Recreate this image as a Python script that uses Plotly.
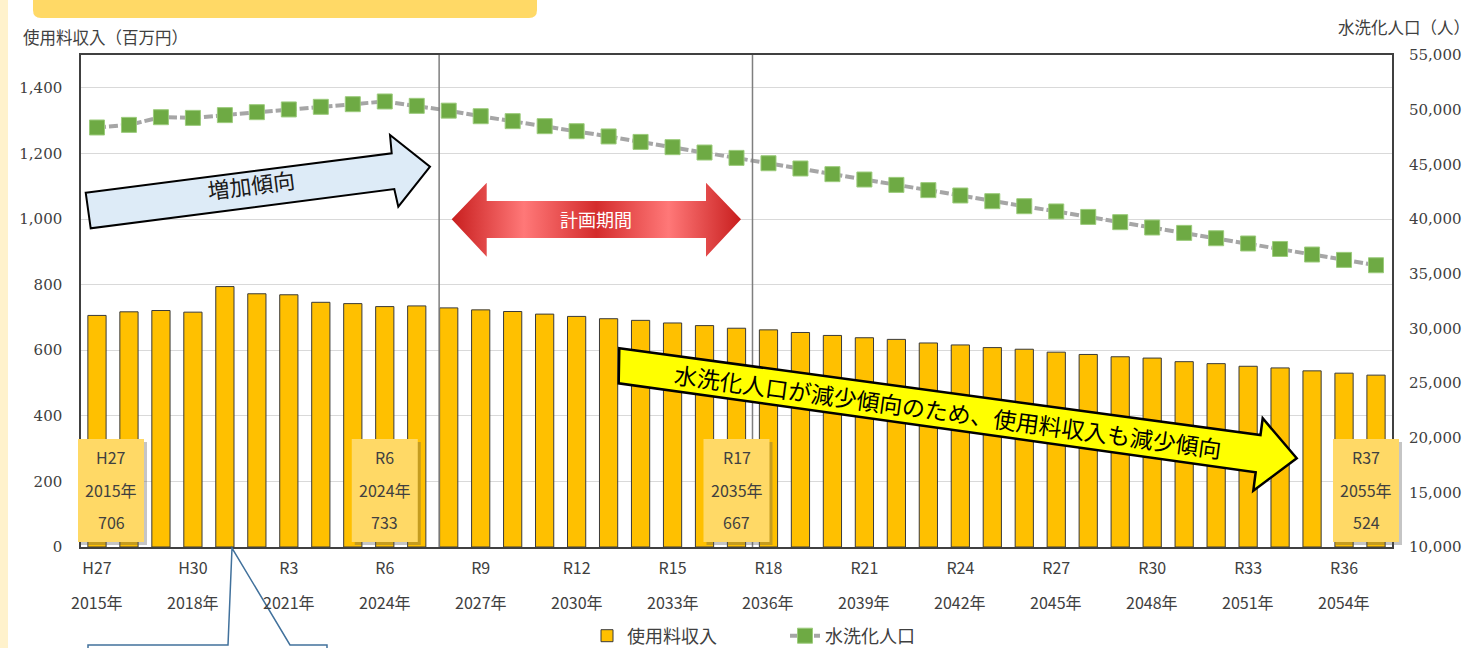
import plotly.graph_objects as go

# ---------------- data ----------------
years = list(range(2015, 2056))
revenue = [706, 717, 721, 716, 794, 772, 769, 746, 742, 733, 735, 729, 723, 718,
           710, 703, 696, 691, 683, 675, 667, 662, 654, 645, 638, 633, 622, 616,
           608, 603, 594, 587, 580, 576, 565, 559, 551, 546, 537, 530, 524]
population = [48370, 48610, 49310, 49250, 49500, 49770, 50020, 50260, 50500, 50750,
              50350, 49910, 49400, 48950, 48490, 48030, 47550, 47050, 46570, 46080,
              45590, 45100, 44620, 44100, 43610, 43120, 42640, 42150, 41630, 41170,
              40690, 40190, 39710, 39220, 38730, 38240, 37760, 37260, 36750, 36260,
              35770]
tick_years = [2015, 2018, 2021, 2024, 2027, 2030, 2033, 2036, 2039, 2042, 2045, 2048, 2051, 2054]
tick_era = ["H27", "H30", "R3", "R6", "R9", "R12", "R15", "R18", "R21", "R24", "R27", "R30", "R33", "R36"]
tick_year_text = [f"{y}年" for y in tick_years]
highlight_years = [2015, 2024, 2035, 2055]
highlight_era = ["H27", "R6", "R17", "R37"]
plan_bounds = [2025.7, 2035.5]

name_rev = "使用料収入"
name_pop = "水洗化人口"
title_left = "使用料収入（百万円）"
title_right = "水洗化人口（人）"
txt_increase = "増加傾向"
txt_plan = "計画期間"
txt_decrease = "水洗化人口が減少傾向のため、使用料収入も減少傾向"

# ---------------- geometry helpers (layout pixels) ----------------
W, H = 1476, 648
L, R, T, B = 81, 1392, 55, 547
XMIN, XMAX = 2014.5, 2055.5
YMAX = 1500

def px(x):
    return (x - L) / (R - L)

def py(y):
    return (B - y) / (B - T)

def dx(x):
    return XMIN + (x - L) / (R - L) * (XMAX - XMIN)

def dy(y):
    return (B - y) / (B - T) * YMAX

def path(pts):
    s = "M " + " L ".join(f"{px(a):.5f},{py(b):.5f}" for a, b in pts)
    return s + " Z"

JP = "Noto Sans CJK JP"
NUM = "DejaVu Serif"
TXT = "#404040"

fig = go.Figure()

fig.add_trace(go.Bar(
    x=years, y=revenue, name=name_rev, width=0.57,
    marker=dict(color="#FFC000", line=dict(color="#3a3a3a", width=1)),
    legend="legend",
))
fig.add_trace(go.Scatter(
    x=years, y=population, name=name_pop, yaxis="y2", mode="lines+markers",
    line=dict(color="#A6A6A6", width=4, dash="9px,3px"),
    marker=dict(symbol="square", size=15, color="#6EAA44",
                line=dict(color="#9CCB7C", width=1)),
    legend="legend2",
))

# red double arrow (plan period) with gradient
red_pts = [(451.7, 219.3), (486.7, 182.7), (486.7, 201), (706, 201), (706, 182.7),
           (741, 219.3), (706, 256.7), (706, 238), (486.7, 238), (486.7, 256.7),
           (451.7, 219.3)]
fig.add_trace(go.Scatter(
    x=[dx(a) for a, b in red_pts], y=[dy(b) for a, b in red_pts],
    mode="lines", fill="toself", line=dict(width=0, color="rgba(0,0,0,0)"),
    fillgradient=dict(type="horizontal",
                      colorscale=[[0, "#C81E1E"], [0.25, "#FF7878"], [0.5, "#D42C2C"],
                                  [0.75, "#FF7878"], [1, "#C81E1E"]]),
    showlegend=False, hoverinfo="skip",
))

shapes = []
annotations = []

def note(x, y, text, size, color=TXT, angle=0, xanchor="center", xref="paper"):
    annotations.append(dict(xref=xref, yref="paper", x=x, y=y, text=text, showarrow=False,
                            xanchor=xanchor, yanchor="middle", textangle=angle,
                            font=dict(family=JP, size=size, color=color)))

# left cream strip and top yellow tab
shapes.append(dict(type="rect", xref="paper", yref="paper", x0=px(0), x1=px(8),
                   y0=py(H), y1=py(0), fillcolor="#FFF2CC", line=dict(width=0), layer="below"))
tab = (f"M {px(33)},{py(-5)} L {px(33)},{py(10)} Q {px(33)},{py(18)} {px(41)},{py(18)} "
       f"L {px(529)},{py(18)} Q {px(537)},{py(18)} {px(537)},{py(10)} L {px(537)},{py(-5)} Z")
shapes.append(dict(type="path", xref="paper", yref="paper", path=tab,
                   fillcolor="#FFD966", line=dict(width=0), layer="below"))

# plan period boundary lines
for xb in plan_bounds:
    shapes.append(dict(type="line", xref="x", yref="paper", x0=xb, x1=xb, y0=0, y1=1,
                       line=dict(color="#7F7F7F", width=1.5), layer="above"))

# blue increasing arrow
blue = [(85.7, 192.7), (391.7, 153.3), (390, 135), (430, 166.7), (398.3, 206.7),
        (394.3, 189), (90.7, 228.3)]
shapes.append(dict(type="path", xref="paper", yref="paper", path=path(blue),
                   fillcolor="#DDEBF7", line=dict(color="#000000", width=2), layer="above"))
note(px(251), py(184), txt_increase, 22, "#1a1a1a", angle=-7.3)

# plan text
note(px(596), py(219), txt_plan, 18, "#FFFFFF")

# yellow decreasing arrow
yel = [(619.3, 348.3), (1260.5, 435), (1262.7, 418.3), (1296.7, 458.3), (1253.3, 490.7),
       (1255.7, 472.2), (618.7, 383.3)]
shapes.append(dict(type="path", xref="paper", yref="paper", path=path(yel),
                   fillcolor="#FFFF00", line=dict(color="#000000", width=2.5), layer="above"))
note(px(948), py(411), txt_decrease, 23, "#000000", angle=7.8)

# highlight boxes
step = (R - L) / len(years)
for yr, era in zip(highlight_years, highlight_era):
    i = years.index(yr)
    cx = L + (i + 0.5) * step
    cx = min(max(cx, 111), 1366)
    x0, x1, y0, y1 = cx - 33, cx + 33, 439, 542
    shapes.append(dict(type="rect", xref="paper", yref="paper", x0=px(x0 + 3), x1=px(x1 + 3),
                       y0=py(y1 + 3), y1=py(y0 + 3), fillcolor="rgba(90,90,90,0.35)",
                       line=dict(width=0), layer="above"))
    shapes.append(dict(type="rect", xref="paper", yref="paper", x0=px(x0), x1=px(x1),
                       y0=py(y1), y1=py(y0), fillcolor="#FFD966",
                       line=dict(width=0), layer="above"))
    for t, yy in zip([era, f"{yr}年", str(revenue[i])], [457, 490, 522]):
        note(px(cx), py(yy), t, 16)

# bottom callout outline
callout = [(88, 652), (88, 645), (228, 645), (232, 548), (290, 645), (327, 645), (327, 652)]
cpath = "M " + " L ".join(f"{px(a):.5f},{py(b):.5f}" for a, b in callout)
shapes.append(dict(type="path", xref="paper", yref="paper", path=cpath,
                   line=dict(color="#41719C", width=1.5)))

# second line of x tick labels
for yr, t in zip(tick_years, tick_year_text):
    note(yr, py(602), t, 16, xref="x")

# axis titles
note(px(21), py(37), title_left, 16.5, xanchor="left")
note(px(1472), py(27), title_right, 16.5, xanchor="right")

legend_y = (H - 636) / H
fig.update_layout(
    width=W, height=H, autosize=False,
    margin=dict(l=L, r=W - R, t=T, b=H - B, autoexpand=False),
    paper_bgcolor="#FFFFFF", plot_bgcolor="#FFFFFF",
    xaxis=dict(range=[XMIN, XMAX], tickvals=tick_years, ticktext=tick_era, ticks="",
               showgrid=False, zeroline=False, showline=True, mirror=True,
               linecolor="#404040", linewidth=1.5, ticklabelstandoff=6,
               tickfont=dict(family=JP, size=16, color=TXT)),
    yaxis=dict(range=[0, YMAX], tickvals=list(range(0, 1401, 200)), tickformat=",",
               showgrid=True, gridcolor="#D9D9D9", gridwidth=1, zeroline=False,
               showline=True, mirror=True, linecolor="#404040", linewidth=1.5,
               ticks="", ticklabelstandoff=14,
               tickfont=dict(family=NUM, size=15, color=TXT)),
    yaxis2=dict(range=[10000, 55000], tickvals=list(range(10000, 55001, 5000)), tickformat=",",
                overlaying="y", side="right", showgrid=False, zeroline=False, showline=False,
                ticks="", ticklabelstandoff=16,
                tickfont=dict(family=NUM, size=15, color=TXT)),
    legend=dict(orientation="h", xref="paper", yref="container", x=px(587), y=legend_y,
                xanchor="left", yanchor="middle",
                font=dict(family=JP, size=18, color=TXT), bgcolor="rgba(0,0,0,0)"),
    legend2=dict(orientation="h", xref="paper", yref="container", x=px(785), y=legend_y,
                 xanchor="left", yanchor="middle",
                 font=dict(family=JP, size=18, color=TXT), bgcolor="rgba(0,0,0,0)"),
    shapes=shapes,
    annotations=annotations,
    hovermode=False,
)

fig.write_html("out.html", config={"displayModeBar": False},
               post_script="document.body.style.margin='0';")
